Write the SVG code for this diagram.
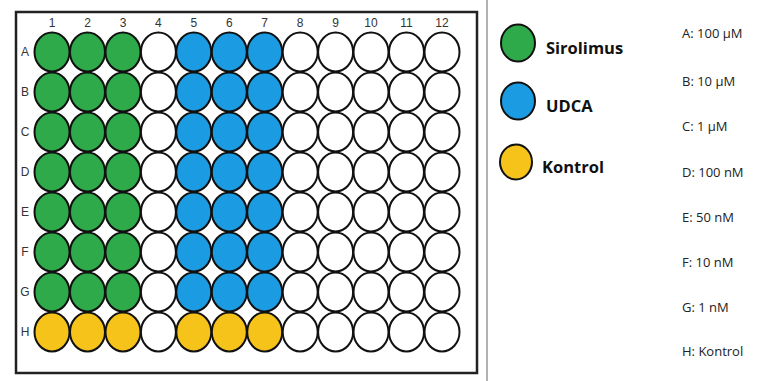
<svg xmlns="http://www.w3.org/2000/svg" width="766" height="381" viewBox="0 0 766 381">
<style>
.well{stroke:#111;stroke-width:2}
.g{fill:#2EAA4A}
.b{fill:#1B9CE2}
.y{fill:#F6C31A}
.w{fill:#fff}
.num{font-family:"Liberation Sans",Arial,sans-serif;font-size:12px;fill:#333;text-anchor:middle}
.lbl{font-family:"Open Sans","Liberation Sans",sans-serif;font-size:16.5px;font-weight:bold;fill:#111}
.conc{font-family:"Open Sans","Liberation Sans",sans-serif;font-size:13px;fill:#222}
</style>
<defs>
<ellipse id="wl" rx="17.5" ry="19.5"/>
</defs>
<rect width="766" height="381" fill="#fff"/>
<g id="plate">
<rect x="16" y="12" width="461" height="361" fill="#fff" stroke="#222" stroke-width="2.5"/>
<g id="colnums">
<text class="num" x="52" y="27">1</text><text class="num" x="87.5" y="27">2</text><text class="num" x="123" y="27">3</text><text class="num" x="158.4" y="27">4</text><text class="num" x="193.8" y="27">5</text><text class="num" x="229.3" y="27">6</text><text class="num" x="264.7" y="27">7</text><text class="num" x="300.2" y="27">8</text><text class="num" x="335.6" y="27">9</text><text class="num" x="371" y="27">10</text><text class="num" x="406.5" y="27">11</text><text class="num" x="442" y="27">12</text>
</g>
<g id="rowletters">
<text class="num" x="25" y="56">A</text><text class="num" x="25" y="96">B</text><text class="num" x="25" y="136">C</text><text class="num" x="25" y="176">D</text><text class="num" x="25" y="216">E</text><text class="num" x="25" y="256">F</text><text class="num" x="25" y="296">G</text><text class="num" x="25" y="336">H</text>
</g>
</g>
<g id="wells">
<g id="rowA">
<use id="A1" href="#wl" x="52" y="52" class="well g"/><use id="A2" href="#wl" x="87.5" y="52" class="well g"/><use id="A3" href="#wl" x="123" y="52" class="well g"/><use id="A4" href="#wl" x="158.4" y="52" class="well w"/><use id="A5" href="#wl" x="193.8" y="52" class="well b"/><use id="A6" href="#wl" x="229.3" y="52" class="well b"/><use id="A7" href="#wl" x="264.7" y="52" class="well b"/><use id="A8" href="#wl" x="300.2" y="52" class="well w"/><use id="A9" href="#wl" x="335.6" y="52" class="well w"/><use id="A10" href="#wl" x="371" y="52" class="well w"/><use id="A11" href="#wl" x="406.5" y="52" class="well w"/><use id="A12" href="#wl" x="442" y="52" class="well w"/>
</g>
<g id="rowB">
<use id="B1" href="#wl" x="52" y="92" class="well g"/><use id="B2" href="#wl" x="87.5" y="92" class="well g"/><use id="B3" href="#wl" x="123" y="92" class="well g"/><use id="B4" href="#wl" x="158.4" y="92" class="well w"/><use id="B5" href="#wl" x="193.8" y="92" class="well b"/><use id="B6" href="#wl" x="229.3" y="92" class="well b"/><use id="B7" href="#wl" x="264.7" y="92" class="well b"/><use id="B8" href="#wl" x="300.2" y="92" class="well w"/><use id="B9" href="#wl" x="335.6" y="92" class="well w"/><use id="B10" href="#wl" x="371" y="92" class="well w"/><use id="B11" href="#wl" x="406.5" y="92" class="well w"/><use id="B12" href="#wl" x="442" y="92" class="well w"/>
</g>
<g id="rowC">
<use id="C1" href="#wl" x="52" y="132" class="well g"/><use id="C2" href="#wl" x="87.5" y="132" class="well g"/><use id="C3" href="#wl" x="123" y="132" class="well g"/><use id="C4" href="#wl" x="158.4" y="132" class="well w"/><use id="C5" href="#wl" x="193.8" y="132" class="well b"/><use id="C6" href="#wl" x="229.3" y="132" class="well b"/><use id="C7" href="#wl" x="264.7" y="132" class="well b"/><use id="C8" href="#wl" x="300.2" y="132" class="well w"/><use id="C9" href="#wl" x="335.6" y="132" class="well w"/><use id="C10" href="#wl" x="371" y="132" class="well w"/><use id="C11" href="#wl" x="406.5" y="132" class="well w"/><use id="C12" href="#wl" x="442" y="132" class="well w"/>
</g>
<g id="rowD">
<use id="D1" href="#wl" x="52" y="172" class="well g"/><use id="D2" href="#wl" x="87.5" y="172" class="well g"/><use id="D3" href="#wl" x="123" y="172" class="well g"/><use id="D4" href="#wl" x="158.4" y="172" class="well w"/><use id="D5" href="#wl" x="193.8" y="172" class="well b"/><use id="D6" href="#wl" x="229.3" y="172" class="well b"/><use id="D7" href="#wl" x="264.7" y="172" class="well b"/><use id="D8" href="#wl" x="300.2" y="172" class="well w"/><use id="D9" href="#wl" x="335.6" y="172" class="well w"/><use id="D10" href="#wl" x="371" y="172" class="well w"/><use id="D11" href="#wl" x="406.5" y="172" class="well w"/><use id="D12" href="#wl" x="442" y="172" class="well w"/>
</g>
<g id="rowE">
<use id="E1" href="#wl" x="52" y="212" class="well g"/><use id="E2" href="#wl" x="87.5" y="212" class="well g"/><use id="E3" href="#wl" x="123" y="212" class="well g"/><use id="E4" href="#wl" x="158.4" y="212" class="well w"/><use id="E5" href="#wl" x="193.8" y="212" class="well b"/><use id="E6" href="#wl" x="229.3" y="212" class="well b"/><use id="E7" href="#wl" x="264.7" y="212" class="well b"/><use id="E8" href="#wl" x="300.2" y="212" class="well w"/><use id="E9" href="#wl" x="335.6" y="212" class="well w"/><use id="E10" href="#wl" x="371" y="212" class="well w"/><use id="E11" href="#wl" x="406.5" y="212" class="well w"/><use id="E12" href="#wl" x="442" y="212" class="well w"/>
</g>
<g id="rowF">
<use id="F1" href="#wl" x="52" y="252" class="well g"/><use id="F2" href="#wl" x="87.5" y="252" class="well g"/><use id="F3" href="#wl" x="123" y="252" class="well g"/><use id="F4" href="#wl" x="158.4" y="252" class="well w"/><use id="F5" href="#wl" x="193.8" y="252" class="well b"/><use id="F6" href="#wl" x="229.3" y="252" class="well b"/><use id="F7" href="#wl" x="264.7" y="252" class="well b"/><use id="F8" href="#wl" x="300.2" y="252" class="well w"/><use id="F9" href="#wl" x="335.6" y="252" class="well w"/><use id="F10" href="#wl" x="371" y="252" class="well w"/><use id="F11" href="#wl" x="406.5" y="252" class="well w"/><use id="F12" href="#wl" x="442" y="252" class="well w"/>
</g>
<g id="rowG">
<use id="G1" href="#wl" x="52" y="292" class="well g"/><use id="G2" href="#wl" x="87.5" y="292" class="well g"/><use id="G3" href="#wl" x="123" y="292" class="well g"/><use id="G4" href="#wl" x="158.4" y="292" class="well w"/><use id="G5" href="#wl" x="193.8" y="292" class="well b"/><use id="G6" href="#wl" x="229.3" y="292" class="well b"/><use id="G7" href="#wl" x="264.7" y="292" class="well b"/><use id="G8" href="#wl" x="300.2" y="292" class="well w"/><use id="G9" href="#wl" x="335.6" y="292" class="well w"/><use id="G10" href="#wl" x="371" y="292" class="well w"/><use id="G11" href="#wl" x="406.5" y="292" class="well w"/><use id="G12" href="#wl" x="442" y="292" class="well w"/>
</g>
<g id="rowH">
<use id="H1" href="#wl" x="52" y="332" class="well y"/><use id="H2" href="#wl" x="87.5" y="332" class="well y"/><use id="H3" href="#wl" x="123" y="332" class="well y"/><use id="H4" href="#wl" x="158.4" y="332" class="well w"/><use id="H5" href="#wl" x="193.8" y="332" class="well y"/><use id="H6" href="#wl" x="229.3" y="332" class="well y"/><use id="H7" href="#wl" x="264.7" y="332" class="well y"/><use id="H8" href="#wl" x="300.2" y="332" class="well w"/><use id="H9" href="#wl" x="335.6" y="332" class="well w"/><use id="H10" href="#wl" x="371" y="332" class="well w"/><use id="H11" href="#wl" x="406.5" y="332" class="well w"/><use id="H12" href="#wl" x="442" y="332" class="well w"/>
</g>
</g>
<line id="separator" x1="487" y1="0" x2="487" y2="381" stroke="#999" stroke-width="1.5"/>
<g id="legend-sirolimus">
<ellipse cx="518" cy="43" rx="17" ry="18.5" class="well g"/>
<text class="lbl" x="546" y="54">Sirolimus</text>
</g>
<g id="legend-udca">
<ellipse cx="518" cy="101" rx="17" ry="18.5" class="well b"/>
<text class="lbl" x="546" y="112">UDCA</text>
</g>
<g id="legend-kontrol">
<ellipse cx="516" cy="162" rx="16" ry="17.5" class="well y"/>
<text class="lbl" x="542" y="173">Kontrol</text>
</g>
<g id="concentrations">
<text class="conc" x="682" y="38">A: 100 µM</text>
<text class="conc" x="682" y="86">B: 10 µM</text>
<text class="conc" x="682" y="131">C: 1 µM</text>
<text class="conc" x="682" y="177">D: 100 nM</text>
<text class="conc" x="682" y="222">E: 50 nM</text>
<text class="conc" x="682" y="267">F: 10 nM</text>
<text class="conc" x="682" y="312">G: 1 nM</text>
<text class="conc" x="682" y="356">H: Kontrol</text>
</g>
</svg>
